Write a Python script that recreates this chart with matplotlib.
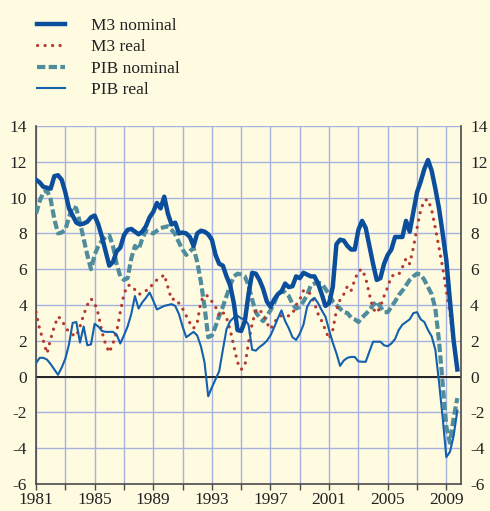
import numpy as np
import matplotlib
matplotlib.use("Agg")
import matplotlib.pyplot as plt

plt.rcParams['font.family'] = ['Liberation Serif', 'DejaVu Serif']
plt.rcParams['axes.unicode_minus'] = False

# trimestral 1981T1 - 2009T4 (tasas de variación interanual, %)
quarters = np.arange(1981, 2010, 0.25)

m3_nominal = [
    11.0, 10.85, 10.6, 10.55,
    10.5, 11.2, 11.25, 11.0,
    10.3, 9.4, 9.0, 8.6,
    8.5, 8.55, 8.65, 8.9,
    9.0, 8.5, 7.8, 7.0,
    6.2, 6.4, 7.0, 7.2,
    7.9, 8.2, 8.25, 8.1,
    7.95, 8.1, 8.4, 8.9,
    9.2, 9.7, 9.4, 10.05,
    9.1, 8.5, 8.6, 8.0,
    8.05, 8.0, 7.8, 7.3,
    8.0, 8.15, 8.1, 7.95,
    7.65, 6.8, 6.3, 6.2,
    5.6, 5.1, 4.1, 2.6,
    2.55, 3.1, 4.6, 5.8,
    5.75, 5.4, 4.9, 4.2,
    3.9, 4.3, 4.6, 4.75,
    5.2, 5.0, 5.05, 5.6,
    5.5, 5.8, 5.7, 5.6,
    5.6, 5.2, 4.6, 3.95,
    4.1, 5.0, 7.4, 7.65,
    7.6, 7.3, 7.1, 7.1,
    8.2, 8.7, 8.3, 7.3,
    6.3, 5.4, 5.5, 6.3,
    6.8, 7.1, 7.8, 7.8,
    7.8, 8.7, 8.1, 9.2,
    10.3, 10.9, 11.6, 12.1,
    11.5, 10.5, 9.4, 8.0,
    6.5, 4.2, 2.0, 0.4,
]

m3_real = [
    3.6, 2.65, 2.0, 1.3,
    2.1, 2.8, 3.35, 3.2,
    2.75, 2.5, 2.35, 2.25,
    2.8, 3.45, 4.0, 4.35,
    4.1, 3.5, 2.5, 1.8,
    1.35, 1.85, 2.5, 3.6,
    4.6, 5.1, 5.1, 4.85,
    4.6, 4.65, 4.8, 4.9,
    5.25, 5.4, 5.5, 5.7,
    5.0, 4.3, 4.35, 4.1,
    3.8, 3.4, 3.0, 2.7,
    3.0, 4.2, 4.55, 4.5,
    4.2, 3.9, 3.4, 3.6,
    3.3, 2.6, 1.7, 0.8,
    0.4, 0.6, 1.9, 2.95,
    3.7, 3.75, 3.45, 3.0,
    2.65, 3.0, 3.3, 3.4,
    3.35, 3.4, 3.5, 4.0,
    4.3, 4.8, 4.8, 4.6,
    4.1, 3.5, 3.1, 2.6,
    2.1, 2.6, 3.7, 4.3,
    4.6, 5.05, 4.8, 5.4,
    5.9, 6.0, 5.5, 4.6,
    3.8, 3.55, 3.9, 4.5,
    5.0, 5.6, 5.7, 5.7,
    6.1, 6.6, 6.3, 7.2,
    8.3, 9.3, 9.85, 9.9,
    9.3, 8.3, 7.2, 6.1,
    4.8, 3.5, 1.9, 0.4,
]

pib_nominal = [
    9.1, 9.8, 10.3, 10.4,
    9.9, 8.8, 8.0, 8.05,
    8.2, 8.9, 9.5, 9.4,
    8.6, 7.7, 6.8, 6.0,
    6.8, 7.3, 7.6, 7.8,
    7.9, 7.3, 6.3, 5.6,
    5.4, 5.5, 6.6, 7.3,
    7.1, 7.7, 8.15, 8.05,
    8.0, 8.15, 8.3, 8.35,
    8.4, 8.2, 7.95, 7.5,
    7.1, 6.8, 7.0, 7.2,
    6.4, 5.3, 3.9, 2.2,
    2.3, 2.8, 3.4, 3.9,
    4.5, 5.1, 5.6, 5.75,
    5.7, 5.6, 5.1, 4.3,
    3.6, 3.3, 3.1, 3.4,
    3.7, 4.1, 4.6, 4.8,
    4.7, 4.5, 4.05, 3.8,
    3.9, 4.2, 4.55, 5.1,
    5.2, 5.25, 5.2, 4.9,
    4.6, 4.2, 4.0, 3.8,
    3.6, 3.55, 3.3, 3.2,
    3.05, 3.3, 3.5, 3.7,
    4.0, 4.2, 3.9, 3.6,
    3.6, 3.9, 4.2, 4.55,
    4.8, 5.1, 5.4, 5.6,
    5.75, 5.7, 5.4, 5.0,
    4.6, 3.8, 2.0, -0.4,
    -2.8, -3.7, -2.3, -1.2,
]

pib_real = [
    0.75, 1.05, 1.05, 0.95,
    0.7, 0.4, 0.1, 0.5,
    1.0, 1.8, 3.0, 3.05,
    1.9, 2.8, 1.75, 1.8,
    2.95, 2.8, 2.55, 2.5,
    2.5, 2.5, 2.35, 1.85,
    2.3, 2.8, 3.5, 4.5,
    3.8, 4.15, 4.4, 4.7,
    4.25, 3.75, 3.85, 3.95,
    4.0, 4.05, 3.95, 3.5,
    2.8, 2.2, 2.35, 2.5,
    2.3, 1.7, 0.8, -1.1,
    -0.6, -0.15, 0.3, 1.5,
    2.65, 3.1, 3.3, 3.4,
    3.25, 3.2, 2.9, 1.5,
    1.45, 1.65, 1.8, 2.0,
    2.3, 2.75, 3.25, 3.7,
    3.1, 2.7, 2.2, 2.05,
    2.4, 2.9, 3.9, 4.25,
    4.4, 4.1, 3.7, 3.35,
    2.6, 1.9, 1.3, 0.6,
    0.9, 1.05, 1.1, 1.1,
    0.85, 0.83, 0.83, 1.4,
    1.95, 1.95, 1.95, 1.75,
    1.7, 1.85, 2.1, 2.6,
    2.9, 3.05, 3.2, 3.55,
    3.6, 3.2, 3.05, 2.6,
    2.25, 1.5, -0.3, -2.3,
    -4.5, -4.2, -3.3, -1.9,
]

year_ticks = np.arange(1981, 2010, 2)
year_labels = [str(y) if (y - 1981) % 4 == 0 else "" for y in year_ticks]
y_ticks = np.arange(-6, 15, 2)

bg = "#fffbe1"
fig = plt.figure(figsize=(4.9, 5.11), dpi=100, facecolor=bg)
ax = fig.add_axes([0.0735, 0.0528, 0.8673, 0.7006], facecolor=bg)

l3 = ax.plot(quarters, pib_nominal, color="#4f8d9c", lw=3.0, ls=(0, (2.0, 0.8)),
             label="PIB nominal", zorder=3)[0]
l2 = ax.plot(quarters, m3_real, color="#b43a2f", lw=2.3, ls=(0, (0.05, 2.3)),
             dash_capstyle="round", label="M3 real", zorder=4)[0]
l4 = ax.plot(quarters, pib_real, color="#1260ae", lw=1.5, label="PIB real", zorder=5)[0]
l1 = ax.plot(quarters, m3_nominal, color="#0b4f9c", lw=3.2, label="M3 nominal",
             solid_joinstyle="round", zorder=6)[0]

ax.axhline(0, color="#222222", lw=1.4, zorder=2)

ax.set_xlim(1981, 2010)
ax.set_ylim(-6, 14)
ax.set_xticks(year_ticks)
ax.set_xticklabels(year_labels)
ax.set_yticks(y_ticks)
ax.grid(True, color="#a7b3df", lw=1.0, zorder=0)
ax.set_axisbelow(True)

for s in ["left", "right", "bottom"]:
    ax.spines[s].set_color("#4a4a4a")
    ax.spines[s].set_linewidth(1.2)
ax.spines["top"].set_visible(False)

ax.tick_params(axis="y", length=0, labelsize=12.5, labelcolor="#222222",
               labelright=True, pad=6.5)
ax.tick_params(axis="x", length=4, width=1.0, color="#4a4a4a", labelsize=12.5,
               labelcolor="#222222", pad=2)

leg = fig.legend(handles=[l1, l2, l3, l4], loc="upper left",
                 bbox_to_anchor=(0.05, 0.989), frameon=False, fontsize=12.5,
                 handlelength=1.65, handletextpad=1.5, labelspacing=0.3,
                 borderpad=0.2)
for t in leg.get_texts():
    t.set_color("#222222")

fig.savefig("out.png", dpi=100, facecolor=bg)
